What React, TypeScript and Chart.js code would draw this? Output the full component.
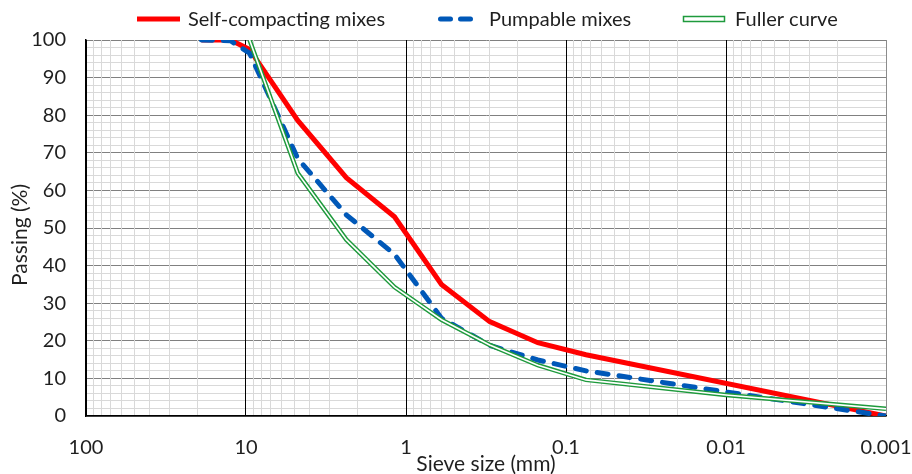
import React, { useEffect, useRef } from 'react';
import { Chart, registerables } from 'chart.js';

Chart.register(...registerables);

// ---- data ----
const sieveSizes = [19, 12.5, 9.5, 4.75, 2.36, 1.18, 0.6, 0.3, 0.15, 0.075, 0.001];
const selfCompacting = [100, 100, 97.5, 78.6, 63.4, 53, 35, 25.1, 19.5, 16.3, 0];
const pumpable = [100, 99.8, 96.5, 68.5, 53.5, 43, 26, 18.8, 14.9, 12, 0];
const fullerSizes = [9.5, 4.75, 2.36, 1.18, 0.6, 0.3, 0.15, 0.075, 0.01, 0.001];
const fuller = [100, 64.6, 46.9, 34.3, 25.6, 18.9, 13.5, 9.6, 5.6, 1.9];

const xDecades = [100, 10, 1, 0.1, 0.01, 0.001];
const xTickLabels = ['100', '10', '1', '0.1', '0.01', '0.001'];
const yTickLabels = ['0', '10', '20', '30', '40', '50', '60', '70', '80', '90', '100'];
const seriesNames = ['Self-compacting mixes', 'Pumpable mixes', 'Fuller curve'];
const xTitle = 'Sieve size (mm)';
const yTitle = 'Passing (%)';

const RED = '#FF0000';
const BLUE = '#0058B8';
const GREEN = '#1E9A3C';
const FONT = 'Lato, "Open Sans", sans-serif';
const TEXT = '#1f1f1f';

const pts = (xs: number[], ys: number[]) => xs.map((x, i) => ({ x, y: ys[i] }));
const isDecade = (v: number) => Math.abs(Math.log10(v) - Math.round(Math.log10(v))) < 1e-9;

const legendPlugin = {
  id: 'customLegend',
  afterDraw(chart: any) {
    const ctx = chart.ctx;
    const y = 19;
    ctx.save();
    ctx.font = `20px ${FONT}`;
    ctx.fillStyle = TEXT;
    ctx.textBaseline = 'middle';
    ctx.textAlign = 'left';
    // red solid
    ctx.strokeStyle = RED;
    ctx.lineWidth = 5;
    ctx.lineCap = 'butt';
    ctx.setLineDash([]);
    ctx.beginPath();
    ctx.moveTo(137, y);
    ctx.lineTo(180, y);
    ctx.stroke();
    ctx.fillText(seriesNames[0], 188, y + 1);
    // blue dashed
    ctx.strokeStyle = BLUE;
    ctx.lineWidth = 5;
    ctx.lineCap = 'round';
    ctx.setLineDash([10, 10]);
    ctx.beginPath();
    ctx.moveTo(440.5, y);
    ctx.lineTo(472, y);
    ctx.stroke();
    ctx.setLineDash([]);
    ctx.fillText(seriesNames[1], 489, y + 1);
    // green double
    ctx.fillStyle = '#fff';
    ctx.strokeStyle = GREEN;
    ctx.lineWidth = 1.5;
    ctx.beginPath();
    ctx.rect(683.5, 16.5, 41, 5);
    ctx.fill();
    ctx.stroke();
    ctx.fillStyle = TEXT;
    ctx.fillText(seriesNames[2], 735, y + 1);
    // y axis title
    ctx.save();
    ctx.translate(20, 235);
    ctx.rotate(-Math.PI / 2);
    ctx.textAlign = 'center';
    ctx.font = `21px ${FONT}`;
    ctx.fillText(yTitle, 0, 0);
    ctx.restore();
    ctx.restore();
  },
};

export default function App() {
  const ref = useRef<HTMLCanvasElement>(null);

  useEffect(() => {
    document.body.style.margin = '0';
    const canvas = ref.current;
    if (!canvas) return;
    const chart = new Chart(canvas, {
      type: 'line',
      data: {
        datasets: [
          {
            label: seriesNames[0],
            data: pts(sieveSizes, selfCompacting),
            borderColor: RED,
            borderWidth: 5,
            pointRadius: 0,
            tension: 0,
            fill: false,
            order: 3,
          },
          {
            label: seriesNames[1],
            data: pts(sieveSizes, pumpable),
            borderColor: BLUE,
            borderWidth: 5,
            borderDash: [11, 11],
            borderCapStyle: 'round',
            pointRadius: 0,
            tension: 0,
            fill: false,
            order: 2,
          },
          {
            label: seriesNames[2],
            data: pts(fullerSizes, fuller),
            borderColor: GREEN,
            borderWidth: 4.5,
            pointRadius: 0,
            tension: 0,
            fill: false,
            order: 1,
          },
          {
            label: seriesNames[2] + ' inner',
            data: pts(fullerSizes, fuller),
            borderColor: '#ffffff',
            borderWidth: 1.6,
            pointRadius: 0,
            tension: 0,
            fill: false,
            order: 0,
          },
        ],
      },
      options: {
        responsive: false,
        animation: false,
        layout: { padding: { top: 40, right: 26, left: 0, bottom: 0 } },
        plugins: {
          legend: { display: false },
          tooltip: { enabled: false },
        },
        scales: {
          x: {
            type: 'logarithmic',
            reverse: true,
            min: 0.001,
            max: 100,
            afterBuildTicks: (scale: any) => {
              const ticks: any[] = [];
              for (let e = -3; e <= 2; e++) {
                for (let m = 1; m <= 9; m++) {
                  const v = Number((m * Math.pow(10, e)).toPrecision(6));
                  if (v > 100 + 1e-9) break;
                  ticks.push({ value: v });
                }
              }
              scale.ticks = ticks;
            },
            afterFit: (scale: any) => {
              scale.height = 58;
            },
            grid: {
              drawTicks: false,
              lineWidth: 1,
              z: -1,
              color: (c: any) => {
                const v = c.tick ? c.tick.value : 1;
                if (isDecade(v)) return Math.abs(v - 0.001) < 1e-12 ? '#8c8c8c' : '#000000';
                return '#d9d9d9';
              },
            },
            border: { display: true, color: '#000000', width: 1.5 },
            ticks: {
              autoSkip: false,
              maxRotation: 0,
              padding: 20,
              color: TEXT,
              font: { family: FONT, size: 20 },
              callback: (value: any) => {
                const v = Number(value);
                const idx = xDecades.findIndex((d) => Math.abs(d - v) / d < 1e-6);
                return idx >= 0 ? xTickLabels[idx] : '';
              },
            },
            title: {
              display: true,
              text: xTitle,
              color: TEXT,
              font: { family: FONT, size: 21, lineHeight: 1 },
              padding: { top: 0, bottom: -1 },
            },
          },
          y: {
            type: 'linear',
            min: 0,
            max: 100,
            afterFit: (scale: any) => {
              scale.width = 86;
            },
            grid: {
              drawTicks: false,
              lineWidth: 1,
              z: -2,
              color: (c: any) => {
                const v = c.tick ? c.tick.value : 0;
                return v % 10 === 0 ? '#808080' : '#d9d9d9';
              },
            },
            border: { display: true, color: '#000000', width: 1.5 },
            ticks: {
              stepSize: 2,
              autoSkip: false,
              padding: 20,
              color: TEXT,
              font: { family: FONT, size: 20 },
              callback: (value: any) => {
                const v = Number(value);
                return v % 10 === 0 ? yTickLabels[v / 10] : '';
              },
            },
            title: { display: false },
          },
        },
      },
      plugins: [legendPlugin],
    });
    return () => chart.destroy();
  }, []);

  return (
    <div style={{ width: 912, height: 474, background: '#fff' }}>
      <canvas ref={ref} width={912} height={474} style={{ display: 'block' }} />
    </div>
  );
}
